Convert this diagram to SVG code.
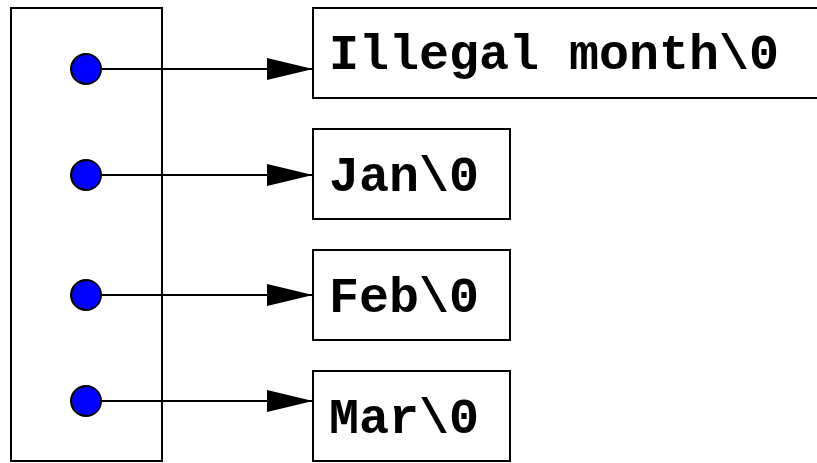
<svg xmlns="http://www.w3.org/2000/svg" width="817" height="463" viewBox="0 0 817 463">
<style>
.box{fill:#fff;stroke:#000;stroke-width:2}
.dot{fill:#0000ff;stroke:#000;stroke-width:2}
.lbl{font-family:"Liberation Mono","Courier New",monospace;font-weight:bold;font-size:50px;fill:#000}
.wire{stroke:#000;stroke-width:2;fill:none}
</style>
<defs>
<marker id="ah" markerUnits="userSpaceOnUse" markerWidth="48" markerHeight="24" refX="46" refY="12" orient="auto">
<path d="M0,1 L46,12 L0,23 Z" fill="#000"/>
</marker>
</defs>
<g id="array">
<rect class="box" x="11" y="8" width="151" height="453"/>
</g>
<g id="str0"><rect class="box" x="313" y="8" width="510" height="90"/><text class="lbl" x="329" y="69">Illegal month\0</text></g>
<g id="str1"><rect class="box" x="313" y="129" width="197" height="90"/><text class="lbl" x="329" y="191">Jan\0</text></g>
<g id="str2"><rect class="box" x="313" y="250" width="197" height="90"/><text class="lbl" x="329" y="312">Feb\0</text></g>
<g id="str3"><rect class="box" x="313" y="371" width="197" height="90"/><text class="lbl" x="329" y="433">Mar\0</text></g>
<g id="connectors">
<line class="wire" x1="101" y1="69" x2="313" y2="69" marker-end="url(#ah)"/>
<line class="wire" x1="101" y1="175" x2="313" y2="175" marker-end="url(#ah)"/>
<line class="wire" x1="101" y1="295" x2="313" y2="295" marker-end="url(#ah)"/>
<line class="wire" x1="101" y1="401" x2="313" y2="401" marker-end="url(#ah)"/>
</g>
<g id="ptr0"><circle class="dot" cx="86" cy="69" r="15"/></g>
<g id="ptr1"><circle class="dot" cx="86" cy="175" r="15"/></g>
<g id="ptr2"><circle class="dot" cx="86" cy="295" r="15"/></g>
<g id="ptr3"><circle class="dot" cx="86" cy="401" r="15"/></g>
</svg>
